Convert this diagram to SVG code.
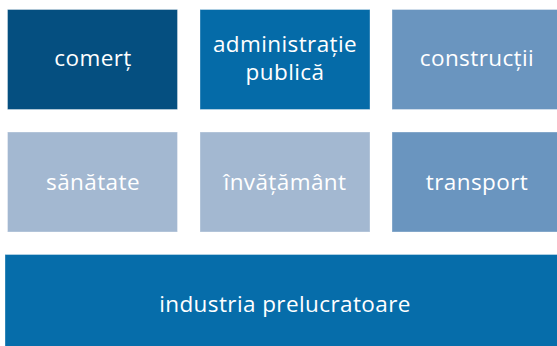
<svg xmlns="http://www.w3.org/2000/svg" width="557" height="346" viewBox="0 0 557 346">
<style>
.box{stroke:#ffffff;stroke-opacity:0.35;stroke-width:1}
.lbl{font-family:"Open Sans","Noto Sans",sans-serif;font-size:22.5px;fill:#ffffff;text-anchor:middle;letter-spacing:0.4px}
</style>
<rect width="557" height="346" fill="#ffffff"/>
<g id="comert"><rect class="box" x="7.5" y="9.5" width="170" height="100" fill="#054F80"/><text class="lbl" x="93" y="66">comerț</text></g>
<g id="administratie"><rect class="box" x="200" y="9.5" width="170" height="100" fill="#056BA8"/><text class="lbl" x="285" y="52">administrație</text><text class="lbl" x="285" y="80">publică</text></g>
<g id="constructii"><rect class="box" x="392" y="9.5" width="170" height="100" fill="#6A95BF"/><text class="lbl" x="477" y="66">construcții</text></g>
<g id="sanatate"><rect class="box" x="7.5" y="132" width="170" height="100" fill="#A3B8D1"/><text class="lbl" x="93" y="190">sănătate</text></g>
<g id="invatamant"><rect class="box" x="200" y="132" width="170" height="100" fill="#A3B8D1"/><text class="lbl" x="285" y="190">învățământ</text></g>
<g id="transport"><rect class="box" x="392" y="132" width="170" height="100" fill="#6A95BF"/><text class="lbl" x="477" y="190">transport</text></g>
<g id="industria"><rect class="box" x="5" y="254.5" width="562" height="95" fill="#066DAA"/><text class="lbl" x="285" y="311.5">industria prelucratoare</text></g>
<g id="connectors"></g>
</svg>
